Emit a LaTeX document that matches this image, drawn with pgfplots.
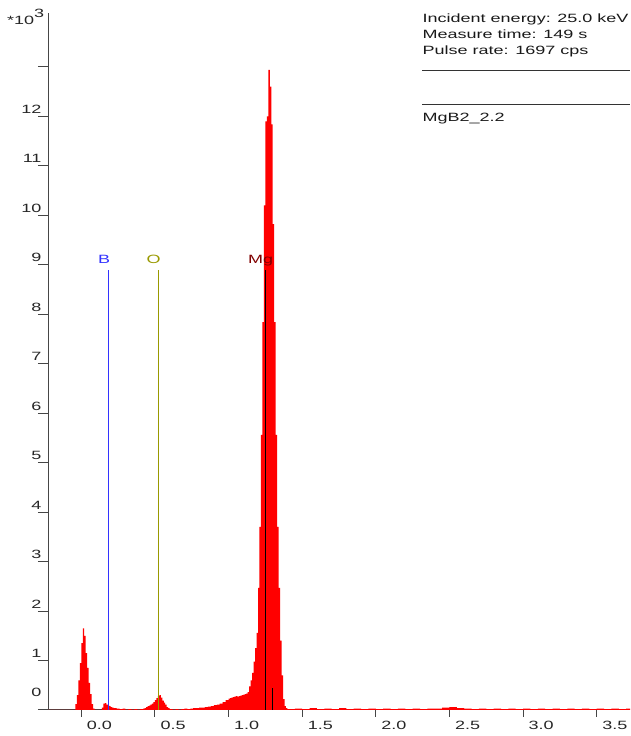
\documentclass[border=0pt]{standalone}
\usepackage{pgfplots}
\pgfplotsset{compat=1.18}
\usepackage{pgfplotstable}
\usepackage{fontspec}
\newfontfamily\uifont[FakeStretch=1.5]{Liberation Sans}
\newcommand{\ui}{\uifont\fontsize{12pt}{14pt}\selectfont}
\definecolor{bcol}{RGB}{51,51,255}
\definecolor{ocol}{RGB}{153,153,0}
\definecolor{mgcol}{RGB}{128,0,0}
\definecolor{axcol}{RGB}{70,70,70}

% EDS spectrum, counts in units of 10^3 per channel
\pgfplotstableread{
E      c
-0.226 0
-0.05  0
-0.04  0.12
-0.03  0.30
-0.02  0.60
-0.01  0.95
0.00   1.35
0.01   1.65
0.02   1.50
0.03   1.15
0.04   0.85
0.05   0.55
0.06   0.32
0.07   0.12
0.08   0.03
0.09   0
0.14   0.05
0.15   0.13
0.16   0.14
0.17   0.11
0.18   0.09
0.19   0.08
0.20   0.06
0.21   0.05
0.22   0.04
0.24   0.03
0.26   0.02
0.28   0.03
0.30   0.01
0.32   0.02
0.34   0.01
0.36   0.02
0.38   0.01
0.40   0.02
0.42   0.03
0.43   0.04
0.44   0.06
0.45   0.08
0.46   0.09
0.47   0.11
0.48   0.13
0.49   0.16
0.50   0.20
0.51   0.24
0.52   0.28
0.53   0.30
0.54   0.25
0.55   0.19
0.56   0.15
0.57   0.11
0.58   0.06
0.59   0.04
0.60   0.02
0.62   0.01
0.64   0.02
0.66   0.01
0.68   0.02
0.70   0.03
0.72   0.02
0.74   0.03
0.76   0.04
0.78   0.04
0.80   0.05
0.82   0.05
0.84   0.06
0.86   0.07
0.88   0.08
0.90   0.10
0.92   0.11
0.94   0.13
0.96   0.16
0.98   0.20
1.00   0.23
1.01   0.24
1.02   0.25
1.03   0.26
1.04   0.27
1.05   0.28
1.06   0.27
1.07   0.28
1.08   0.29
1.09   0.30
1.10   0.31
1.11   0.32
1.12   0.33
1.13   0.36
1.14   0.48
1.15   0.60
1.16   0.75
1.17   0.98
1.18   1.25
1.19   1.56
1.20   2.47
1.21   3.70
1.22   5.56
1.23   7.84
1.24   10.2
1.25   11.9
1.26   12.0
1.27   12.94
1.28   12.6
1.29   11.84
1.30   9.82
1.31   7.84
1.32   5.56
1.33   3.70
1.34   2.47
1.35   1.40
1.36   0.70
1.37   0.22
1.38   0.08
1.39   0.04
1.40   0.02
1.45   0.03
1.50   0.02
1.55   0.04
1.60   0.02
1.65   0.03
1.70   0.02
1.75   0.04
1.80   0.02
1.85   0.03
1.90   0.02
1.95   0.03
2.00   0.02
2.05   0.03
2.10   0.02
2.15   0.03
2.20   0.02
2.25   0.03
2.30   0.02
2.35   0.03
2.40   0.03
2.45   0.05
2.50   0.06
2.55   0.04
2.60   0.03
2.65   0.02
2.70   0.03
2.75   0.02
2.80   0.03
2.85   0.02
2.90   0.03
2.95   0.02
3.00   0.03
3.05   0.02
3.10   0.03
3.15   0.02
3.20   0.03
3.25   0.02
3.30   0.03
3.35   0.02
3.40   0.03
3.45   0.02
3.50   0.03
3.55   0.02
3.60   0.03
3.65   0.02
3.70   0.03
3.726  0.03
}\spectrum

\begin{document}
\begin{tikzpicture}
\useasboundingbox (0,0) rectangle (630pt,736pt);
\begin{axis}[
  at={(48pt,26pt)}, anchor=south west,
  scale only axis, width=582pt, height=697pt,
  xmin=-0.226, xmax=3.726, ymin=0, ymax=14.09,
  axis x line=bottom, axis y line=left,
  axis line style={-, axcol, line width=1pt},
  tick align=outside,
  major tick length=10pt,
  tick style={axcol, line width=1pt},
  x tick style={/pgfplots/major tick length=6.7pt},
  xtick={0,0.5,1,1.5,2,2.5,3,3.5},
  xticklabels={0.0,0.5,1.0,1.5,2.0,2.5,3.0,3.5},
  ytick={0,1,2,3,4,5,6,7,8,9,10,11,12,13},
  yticklabels={\raisebox{10.3pt}{0},1,2,3,4,5,6,7,8,9,10,11,12,{}},
  xticklabel style={font=\ui, text=black!85, anchor=north west, inner sep=0pt, xshift=5.4pt, yshift=-1pt},
  yticklabel style={font=\ui, text=black!85, anchor=south east, inner sep=0pt, xshift=3.7pt, yshift=2.7pt},
]
\addplot[const plot, fill=red, draw=none] table[x=E, y=c] {\spectrum} \closedcycle;

% element marker lines
\addplot[bcol, line width=1pt] coordinates {(0.185,0) (0.185,8.9)};
\addplot[ocol, line width=1pt] coordinates {(0.522,0) (0.522,8.9)};
\addplot[black, line width=1pt] coordinates {(1.248,0) (1.248,8.9)};
\addplot[black, line width=1pt] coordinates {(1.297,0) (1.297,0.45)};

\node[font=\ui, text=bcol, anchor=base, inner sep=0pt] at (axis cs:0.155,9.02) {B};
\node[font=\ui, text=ocol, anchor=base, inner sep=0pt] at (axis cs:0.492,9.02) {O};
\node[font=\ui, text=mgcol, anchor=base, inner sep=0pt] at (axis cs:1.218,9.02) {Mg};
\end{axis}

% multiplier and acquisition info
\node[font=\ui, text=black!85, anchor=base west, inner sep=0pt] at (7pt,711pt) {*10\raisebox{7pt}{3}};
\begin{scope}[every node/.style={font=\ui, text=black!90, anchor=base west, inner sep=0pt}]
\node at (422.5pt,713.3pt) {Incident energy: 25.0 keV};
\node at (422.5pt,697pt) {Measure time: 149 s};
\node at (422.5pt,681pt) {Pulse rate: 1697 cps};
\node at (422.5pt,614.3pt) {MgB2\_2.2};
\end{scope}
\draw[black!80, line width=1pt] (422pt,665.3pt) -- (630pt,665.3pt);
\draw[black!80, line width=1pt] (422pt,631.7pt) -- (630pt,631.7pt);
\end{tikzpicture}
\end{document}
